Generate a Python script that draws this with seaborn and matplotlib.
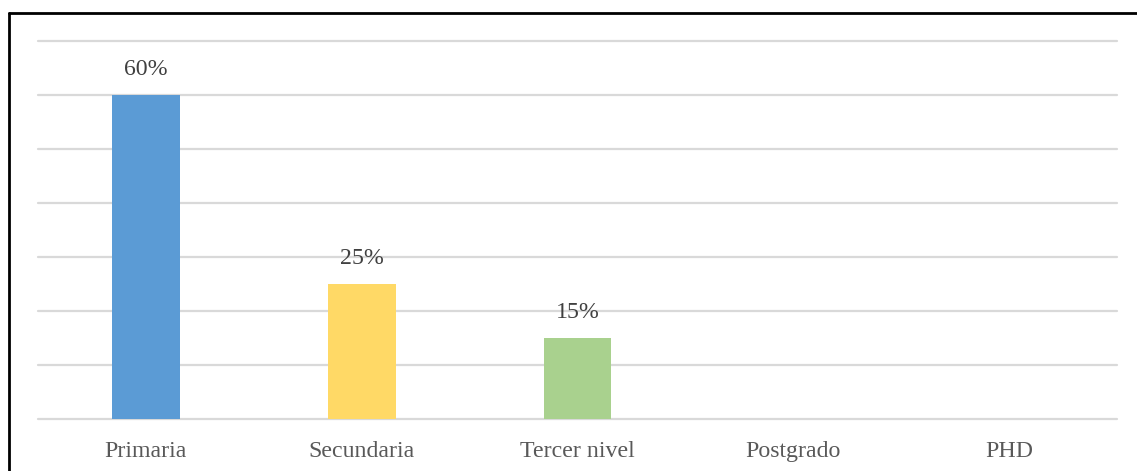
import matplotlib
matplotlib.use("Agg")
import matplotlib.pyplot as plt
import seaborn as sns
import pandas as pd
from matplotlib.lines import Line2D

categories = ["Primaria", "Secundaria", "Tercer nivel", "Postgrado", "PHD"]
values = [0.60, 0.25, 0.15, 0.0, 0.0]
labels = ["60%", "25%", "15%", "", ""]
colors = ["#5B9BD5", "#FFD966", "#A9D18E", "#A5A5A5", "#ED7D31"]

sns.set_style("white")
plt.rcParams['font.family'] = ['Liberation Serif', 'DejaVu Serif']

df = pd.DataFrame({"cat": categories, "val": values})

fig = plt.figure(figsize=(11.37, 4.71), dpi=100)
ax = fig.add_axes([38/1137, 1 - 419/471, (1117 - 38)/1137, (419 - 41)/471])

sns.barplot(data=df, x="cat", y="val", hue="cat", palette=colors, legend=False,
            width=0.315, ax=ax, saturation=1, linewidth=0, edgecolor="none")

ax.set_ylim(0, 0.70)
ax.set_xlim(-0.5, 4.5)
ax.set_yticks([i / 10 for i in range(8)])
ax.yaxis.grid(True, color="#d9d9d9", linewidth=1.6)
for gl in ax.get_ygridlines():
    gl.set_clip_on(False)
ax.set_axisbelow(True)
ax.tick_params(axis='y', left=False, labelleft=False)
ax.tick_params(axis='x', bottom=False, labelsize=17.2, colors="#595959", pad=12)
ax.set_xlabel("")
ax.set_ylabel("")
for s in ["top", "right", "left", "bottom"]:
    ax.spines[s].set_visible(False)

for i, (v, lab) in enumerate(zip(values, labels)):
    if lab:
        ax.annotate(lab, (i, v), xytext=(0, 11), textcoords="offset points",
                    ha="center", va="bottom", fontsize=17.2, color="#404040")

# outer frame (top and left edges visible)
fig.add_artist(Line2D([8.5/1137, 1], [1 - 12.5/471, 1 - 12.5/471], color="black", linewidth=2, transform=fig.transFigure))
fig.add_artist(Line2D([8.5/1137, 8.5/1137], [0, 1 - 12.5/471], color="black", linewidth=2, transform=fig.transFigure))

fig.savefig("out.png", dpi=100, facecolor="white")
